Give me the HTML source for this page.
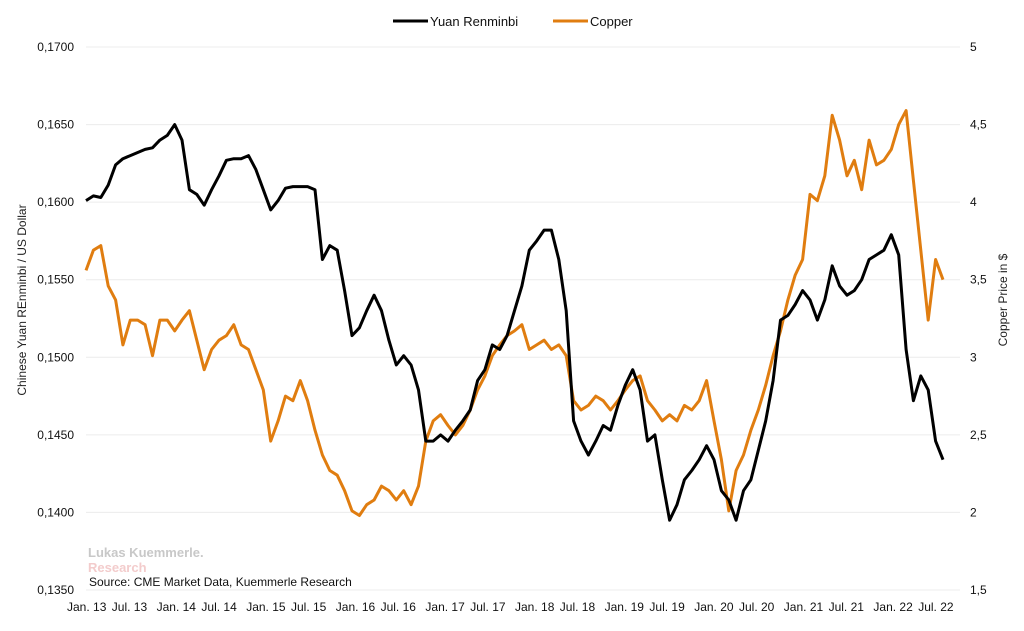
<!DOCTYPE html>
<html><head><meta charset="utf-8"><style>
body{margin:0;background:#fff;}
svg{font-family:"Liberation Sans",sans-serif;}
</style></head><body>
<svg id="chart" width="1024" height="626" xmlns="http://www.w3.org/2000/svg">
<g id="grid"></g>
<g id="laxis"></g>
<g id="raxis"></g>
<g id="xaxis"></g>
<text transform="translate(26,300) rotate(-90)" text-anchor="middle" font-size="12" fill="#222">Chinese Yuan REnminbi / US Dollar</text>
<text transform="translate(1007,300) rotate(-90)" text-anchor="middle" font-size="12" fill="#222">Copper Price in $</text>
<g>
<g><line x1="393" y1="21" x2="428" y2="21" stroke="#000" stroke-width="3"/><text x="430" y="26" font-size="13" fill="#111">Yuan Renminbi</text></g>
<g><line x1="553" y1="21" x2="588" y2="21" stroke="#e07d10" stroke-width="3"/><text x="590" y="26" font-size="13" fill="#111">Copper</text></g>
</g>
<text x="88" y="557" font-size="13" font-weight="bold" fill="#c8c8c8">Lukas Kuemmerle.</text>
<text x="88" y="572" font-size="13" font-weight="bold" fill="#f3cccc">Research</text>
<text x="89" y="586" font-size="12" fill="#111">Source: CME Market Data, Kuemmerle Research</text>
<path id="copper" fill="none" stroke="#e07d10" stroke-width="3" stroke-linejoin="round"/>
<path id="yuan" fill="none" stroke="#000" stroke-width="3" stroke-linejoin="round"/>
</svg>
<script>
const xLabels=["Jan. 13","Jul. 13","Jan. 14","Jul. 14","Jan. 15","Jul. 15","Jan. 16","Jul. 16","Jan. 17","Jul. 17","Jan. 18","Jul. 18","Jan. 19","Jul. 19","Jan. 20","Jul. 20","Jan. 21","Jul. 21","Jan. 22","Jul. 22"];
const leftTicks=[0.135,0.140,0.145,0.150,0.155,0.160,0.165,0.170];
const rightTicks=[1.5,2,2.5,3,3.5,4,4.5,5];
const yuan=[.1601,.1604,.1603,.1611,.1624,.1628,.1630,.1632,.1634,.1635,.1640,.1643,
.1650,.1640,.1608,.1605,.1598,.1608,.1617,.1627,.1628,.1628,.1630,.1621,
.1608,.1595,.1601,.1609,.1610,.1610,.1610,.1608,.1563,.1572,.1569,.1543,
.1514,.1519,.1530,.1540,.1530,.1511,.1495,.1501,.1495,.1479,.1446,.1446,
.1450,.1446,.1453,.1459,.1466,.1485,.1492,.1508,.1505,.1514,.1530,.1546,
.1569,.1575,.1582,.1582,.1563,.1530,.1459,.1446,.1437,.1446,.1456,.1453,
.1469,.1482,.1492,.1479,.1446,.1450,.1421,.1395,.1405,.1421,.1427,.1434,
.1443,.1434,.1414,.1408,.1395,.1414,.1421,.1440,.1459,.1485,.1524,.1527,
.1534,.1543,.1537,.1524,.1537,.1559,.1546,.1540,.1543,.1550,.1563,.1566,
.1569,.1579,.1566,.1505,.1472,.1488,.1479,.1446,.1434];
const copper=[3.56,3.69,3.72,3.46,3.37,3.08,3.24,3.24,3.21,3.01,3.24,3.24,
3.17,3.24,3.30,3.11,2.92,3.05,3.11,3.14,3.21,3.08,3.05,2.92,
2.79,2.46,2.59,2.75,2.72,2.85,2.72,2.53,2.37,2.27,2.24,2.14,
2.01,1.98,2.05,2.08,2.17,2.14,2.08,2.14,2.05,2.17,2.46,2.59,
2.63,2.56,2.50,2.56,2.66,2.79,2.88,3.01,3.08,3.14,3.17,3.21,
3.05,3.08,3.11,3.05,3.08,3.01,2.72,2.66,2.69,2.75,2.72,2.66,
2.72,2.79,2.85,2.88,2.72,2.66,2.59,2.63,2.59,2.69,2.66,2.72,
2.85,2.59,2.34,2.01,2.27,2.37,2.53,2.66,2.82,3.01,3.17,3.37,
3.53,3.63,4.05,4.01,4.17,4.56,4.40,4.17,4.27,4.08,4.40,4.24,
4.27,4.34,4.50,4.59,4.14,3.69,3.24,3.63,3.50];
const X0=86,X1=943,YT=47,YB=590,PR=960;
const xs=i=>X0+(X1-X0)*i/(yuan.length-1);
const yl=v=>YB-(v-0.135)/(0.170-0.135)*(YB-YT);
const yr=v=>YB-(v-1.5)/(5-1.5)*(YB-YT);
const NS="http://www.w3.org/2000/svg";
function mk(tag,attrs,parent){const e=document.createElementNS(NS,tag);for(const k in attrs)e.setAttribute(k,attrs[k]);parent.appendChild(e);return e;}
const grid=document.getElementById('grid'),la=document.getElementById('laxis'),ra=document.getElementById('raxis'),xa=document.getElementById('xaxis');
leftTicks.forEach(v=>{
 const l=mk('line',{x1:X0,x2:PR,y1:yl(v),y2:yl(v),stroke:'#ececec','stroke-width':1},grid);
 
 
 const t=mk('text',{x:74,y:yl(v)+4,'text-anchor':'end','font-size':12,fill:'#111'},la);
 t.textContent=v.toFixed(4).replace('.',',');
 
 
});
rightTicks.forEach(v=>{
 const t=mk('text',{x:970,y:yr(v)+4,'font-size':12,fill:'#111'},ra);
 t.textContent=String(v).replace('.',',');
 
 
});
xLabels.forEach((s,i)=>{
 const t=mk('text',{x:67+i*44.8,y:611,'font-size':12,fill:'#111'},xa);
 t.textContent=s;
 
 
});
document.getElementById('yuan').setAttribute('d',yuan.map((v,i)=>(i?'L':'M')+xs(i).toFixed(1)+','+yl(v).toFixed(1)).join(''));
document.getElementById('copper').setAttribute('d',copper.map((v,i)=>(i?'L':'M')+xs(i).toFixed(1)+','+yr(v).toFixed(1)).join(''));
</script>
</body></html>
